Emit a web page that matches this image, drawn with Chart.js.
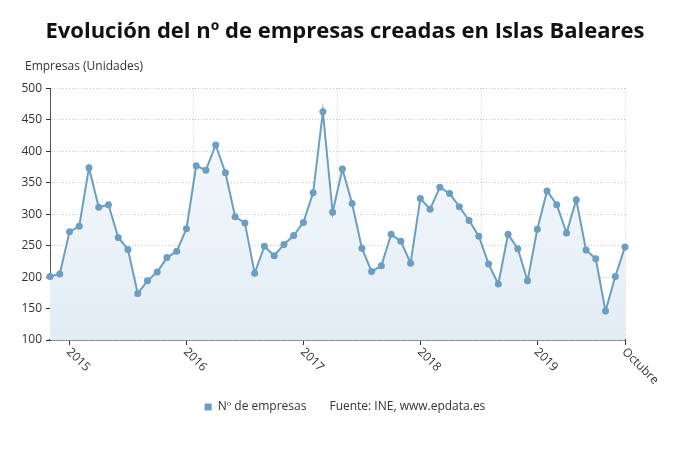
<!DOCTYPE html>
<html>
<head>
<meta charset="utf-8">
<script src="https://cdn.jsdelivr.net/npm/chart.js@4.4.1/dist/chart.umd.min.js"></script>
<style>
  html, body { margin: 0; padding: 0; background: #fff; }
  #wrap { width: 690px; height: 465px; }
</style>
</head>
<body>
<div id="wrap"><canvas id="empresas"></canvas></div>
<script>
// Empresas creadas en Baleares, nov 2014 - oct 2019
const months = [
  'nov 2014', 'dic 2014',
  'ene 2015', 'feb 2015', 'mar 2015', 'abr 2015', 'may 2015', 'jun 2015', 'jul 2015', 'ago 2015', 'sep 2015', 'oct 2015', 'nov 2015', 'dic 2015',
  'ene 2016', 'feb 2016', 'mar 2016', 'abr 2016', 'may 2016', 'jun 2016', 'jul 2016', 'ago 2016', 'sep 2016', 'oct 2016', 'nov 2016', 'dic 2016',
  'ene 2017', 'feb 2017', 'mar 2017', 'abr 2017', 'may 2017', 'jun 2017', 'jul 2017', 'ago 2017', 'sep 2017', 'oct 2017', 'nov 2017', 'dic 2017',
  'ene 2018', 'feb 2018', 'mar 2018', 'abr 2018', 'may 2018', 'jun 2018', 'jul 2018', 'ago 2018', 'sep 2018', 'oct 2018', 'nov 2018', 'dic 2018',
  'ene 2019', 'feb 2019', 'mar 2019', 'abr 2019', 'may 2019', 'jun 2019', 'jul 2019', 'ago 2019', 'sep 2019', 'oct 2019'
];

const empresas = [
  201, 205,
  272, 281, 374, 311, 315, 263, 244, 174, 194, 208, 231, 241,
  277, 377, 370, 410, 366, 296, 286, 206, 249, 234, 252, 266,
  287, 334, 463, 303, 372, 317, 246, 209, 218, 268, 257, 222,
  325, 308, 343, 333, 312, 290, 265, 221, 189, 268, 245, 194,
  276, 337, 315, 270, 323, 243, 229, 146, 201, 248
];

// labels shown under the x axis, and where they go
const xTickIndex = [2, 14, 26, 38, 50, 59];
const xTickText = ['2015', '2016', '2017', '2018', '2019', 'Octubre'];

const yMin = 100;
const yMax = 500;
const yStep = 50;

const unitsLabel = 'Empresas (Unidades)';

const lineColor = '#6b9ebf';
const textColor = '#333333';
const font = "'Open Sans', sans-serif";

// x labels go down to the right, which chart.js won't do by itself;
// the units label also sits left of where the title box starts
const extraText = {
  id: 'extraText',
  afterDraw(chart) {
    const { ctx } = chart;
    const xs = chart.scales.x;
    ctx.save();
    ctx.font = "12px " + font;
    ctx.fillStyle = textColor;
    ctx.textAlign = 'left';
    ctx.textBaseline = 'middle';
    ctx.fillText(unitsLabel, 25, 67);
    xTickIndex.forEach((idx, i) => {
      const px = xs.getPixelForValue(idx);
      ctx.save();
      ctx.translate(px - 1, xs.top + 10);
      ctx.rotate(Math.PI / 4);
      ctx.fillText(xTickText[i], 0, 0);
      ctx.restore();
    });
    ctx.restore();
  }
};

const ctx = document.getElementById('empresas');

new Chart(ctx, {
  type: 'line',
  data: {
    labels: months,
    datasets: [{
      label: 'Nº de empresas',
      data: empresas,
      borderColor: lineColor,
      borderWidth: 2,
      tension: 0,
      pointRadius: 3.5,
      pointBackgroundColor: lineColor,
      pointBorderColor: lineColor,
      pointBorderWidth: 0,
      fill: 'start',
      backgroundColor(context) {
        const area = context.chart.chartArea;
        if (!area) return 'rgba(230,238,246,0.8)';
        const g = context.chart.ctx.createLinearGradient(0, area.top, 0, area.bottom);
        g.addColorStop(0, '#f8fbfd');
        g.addColorStop(1, '#e2ecf5');
        return g;
      }
    }]
  },
  options: {
    responsive: true,
    maintainAspectRatio: false,
    animation: false,
    layout: { padding: { left: 0, right: 0, top: 0, bottom: 42 } },
    scales: {
      x: {
        type: 'category',
        offset: false,
        grid: {
          display: true,
          drawOnChartArea: false,
          drawTicks: true,
          tickLength: 5,
          tickColor: '#333',
          color: '#333'
        },
        border: { display: true, color: '#333', width: 1.5 },
        ticks: {
          autoSkip: false,
          maxRotation: 0,
          minRotation: 0,
          color: 'rgba(0,0,0,0)',
          callback(value, index) {
            const k = xTickIndex.indexOf(index);
            return k === -1 ? null : xTickText[k];
          }
        },
        afterFit(s) { s.height = 51; }
      },
      xg: {
        type: 'linear',
        position: 'bottom',
        min: 0,
        max: months.length - 1,
        grid: {
          display: true,
          drawOnChartArea: true,
          drawTicks: false,
          color: '#c6c6c6'
        },
        border: { display: false, dash: [1, 2] },
        ticks: { display: false, stepSize: (months.length - 1) / 4 },
        afterFit(s) { s.height = 0; }
      },
      y: {
        min: yMin,
        max: yMax,
        grid: {
          color: '#c6c6c6',
          tickColor: '#333',
          tickLength: 4,
          drawTicks: true
        },
        border: { display: true, color: '#555', width: 1, dash: [1, 2] },
        ticks: {
          stepSize: yStep,
          padding: 4,
          color: textColor,
          font: { family: font, size: 12 }
        },
        afterFit(s) { s.width = 50; }
      },
      yR: {
        type: 'linear',
        position: 'right',
        grid: { display: false },
        border: { display: false },
        ticks: { display: false },
        afterFit(s) { s.width = 65; }
      }
    },
    plugins: {
      title: {
        display: true,
        text: 'Evolución del nº de empresas creadas en Islas Baleares',
        color: '#111',
        font: { family: font, size: 22, weight: 'bold' },
        padding: { top: 19, bottom: 43 }
      },
      legend: {
        display: true,
        position: 'bottom',
        labels: {
          color: textColor,
          font: { family: font, size: 12 },
          boxWidth: 7,
          boxHeight: 7,
          padding: 10,
          generateLabels() {
            return [
              { text: 'Nº de empresas', fillStyle: lineColor, strokeStyle: lineColor, lineWidth: 0, datasetIndex: 0, fontColor: textColor },
              { text: 'Fuente: INE, www.epdata.es', fillStyle: 'rgba(0,0,0,0)', strokeStyle: 'rgba(0,0,0,0)', lineWidth: 0, fontColor: textColor }
            ];
          }
        },
        onClick() {}
      },
      tooltip: { enabled: false }
    }
  },
  plugins: [extraText]
});
</script>
</body>
</html>
